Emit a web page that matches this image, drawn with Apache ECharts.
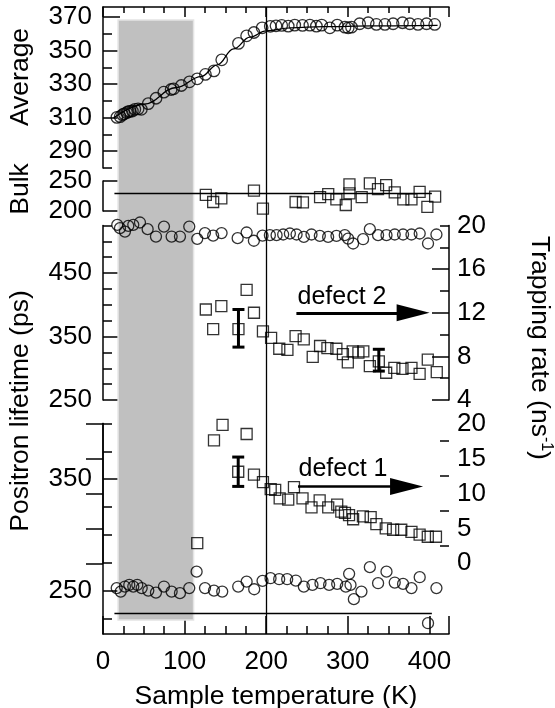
<!DOCTYPE html>
<html>
<head>
<meta charset="utf-8">
<script src="https://cdn.jsdelivr.net/npm/echarts@6/dist/echarts.min.js"></script>
<style>
  html, body { margin: 0; padding: 0; background: #fff; }
  #chart { width: 555px; height: 708px; }
</style>
</head>
<body>
<div id="chart"></div>
<script>
// ---- data: positron lifetime analysis vs. sample temperature ----

// average lifetime (ps)
const avgT = [17, 21, 24, 26, 29, 31, 33, 36, 39, 43, 47, 55.5, 65, 74.5, 83.5, 86.5, 96, 106, 115.5, 125.5,
  136, 145.5, 166, 176, 185, 195, 205, 212, 219, 227, 235, 244.5, 253.5, 261.5, 268, 278, 287, 296.5,
  300.5, 304.5, 314.5, 325, 335, 345.5, 355.5, 367, 376, 386, 396.5, 406.5];
const avgV = [310.2, 310.6, 311.8, 312.3, 313.0, 313.6, 313.8, 314.0, 315.0, 315.2, 315.0, 318.4, 321.6, 325.2,
  326.8, 327.2, 329.2, 331.4, 333.2, 335.8, 337.9, 344.5, 354.3, 358.8, 360.8, 363.6, 364.5, 364.8, 365.0,
  364.6, 365.2, 365.0, 365.2, 364.6, 365.2, 363.6, 365.2, 364.0, 363.6, 364.0, 366.0, 366.6, 365.6, 365.6,
  366.0, 366.6, 366.0, 365.6, 366.0, 365.6];

// model curve through the average lifetime
const fitT = [13, 50, 90, 120, 140, 160, 180, 200, 230, 270, 330, 410];
const fitV = [309.8, 318, 328, 334.5, 341.5, 351, 358, 361.8, 363.6, 364.3, 364.7, 365];

// bulk lifetime (ps)
const bulkT = [126, 135, 145, 185, 196, 236, 245, 266, 276, 286, 297.5, 302, 302, 317, 327, 337, 347,
  357.5, 368, 378, 388, 397.5, 407];
const bulkV = [227, 215, 221, 234, 204, 215, 214.5, 223, 228, 219.5, 210, 244.5, 229.5, 223, 246, 236.5,
  243, 231, 219.5, 219.5, 232, 207, 224];
const bulkRef = 230;
const refFrom = 14, refTo = 403;

// defect 2: lifetime (ps) and trapping rate (1/ns)
const tau2T = [17.5, 20.8, 26.9, 31, 37.1, 45.3, 54.7, 64.9, 74.7, 84.1, 94.3, 105.7, 115.5, 124.9, 135,
  145.3, 165, 176, 184.9, 195.5, 204.5, 212.7, 220.8, 229, 237.2, 246.1, 255.5, 265.7, 275.9, 286.1,
  296.3, 300.4, 306.5, 318.7, 327, 337.1, 347.4, 357.5, 367.7, 378, 388.1, 398.3, 408.6];
const tau2V = [526, 520.8, 515.5, 524.4, 526, 529.7, 519.2, 507.6, 523.3, 507.6, 507.6, 523.3, 504, 513,
  509, 513, 505, 514, 501, 509, 509.8, 509.8, 510.8, 512.4, 510.8, 507.1, 510.8, 508.7, 507, 508.7,
  509.8, 504.4, 496.6, 503.4, 519.2, 509.8, 509.8, 510.8, 510.8, 510.8, 512.4, 496.6, 510.8];
const rate2T = [126, 135, 145, 166, 176, 185, 196, 206, 216, 226, 236, 246, 257, 266, 275, 286, 294, 300,
  306, 313, 319, 327, 338, 347, 357, 367, 378, 388, 398, 409];
const rate2V = [12.3, 10.5, 12.6, 10.5, 14.1, 12.0, 10.3, 9.7, 8.7, 8.6, 9.85, 9.55, 7.95, 8.95, 8.75, 8.7,
  8.2, 7.45, 8.45, 8.35, 8.45, 7.1, 7.55, 6.5, 6.95, 6.85, 6.95, 6.4, 7.7, 6.55];
const rate2Err = [[166, 8.85, 12.3], [338, 6.65, 8.65]];   // [T, low, high]
const arrow2 = { from: 237, to: 380, level: 12 };

// defect 1: lifetime (ps) and trapping rate (1/ns)
const tau1T = [16.8, 21.7, 26.9, 32.2, 37.1, 42, 47.4, 55.5, 64.9, 74.7, 84.1, 94.3, 105.7, 114.7, 125,
  136, 146.1, 165.7, 176, 185.3, 195.5, 205.3, 215.9, 225.7, 236.3, 246.1, 256.7, 266.5, 277.1, 287,
  297.5, 301.6, 303.3, 307.4, 316.7, 327, 337.1, 347.4, 357.5, 367.7, 378, 388.1, 398.3, 408.6];
const tau1V = [252.2, 249.1, 253.6, 255.1, 253.6, 255.1, 252.2, 250, 248.2, 253.6, 249.1, 247.7, 252.2,
  267, 252.2, 250, 249.1, 253.6, 258, 251.2, 258.7, 261.1, 260.2, 260.2, 259, 253.6, 255.1, 256.6, 255.1,
  256, 253.6, 265, 255.1, 242.3, 249.1, 271, 256.6, 267, 257.2, 256, 252.2, 262, 220.7, 252.2];
const rate1T = [115.5, 136, 146.5, 165.7, 176, 185, 196, 205.5, 211, 216.5, 227, 234, 244.5, 255.5, 265.5,
  276, 287, 292, 296.5, 301.5, 306.5, 318.5, 328, 335, 346.5, 355.5, 365.5, 378, 388, 398, 408];
const rate1V = [2.9, 17.6, 19.8, 13.1, 18.5, 12.7, 11.6, 10.6, 10.5, 9.3, 9.1, 10.9, 9.3, 8.0, 9.0, 8.0,
  8.4, 7.4, 7.2, 6.9, 6.3, 6.7, 6.6, 5.6, 5.0, 4.8, 4.8, 4.5, 4.1, 3.8, 3.8];
const rate1Err = [[165.7, 11.0, 15.2]];
const arrow1 = { from: 239, to: 372, level: 11 };

// low-temperature band and reference temperature
const bandFrom = 18.5, bandTo = 111;
const refTemp = 200;

// tick labels
const xTicks = [0, 100, 200, 300, 400];
const avgLabels = [290, 310, 330, 350, 370];
const avgMinor = [280, 300, 320, 340, 360];
const bulkLabels = [200, 250];
const tau2Labels = [250, 350, 450];
const tau2Minor = [275, 300, 325, 375, 400, 425, 475, 500, 525];
const rate2Labels = [4, 8, 12, 16, 20];
const rate2Minor = [6, 10, 14, 18];
const tau1Labels = [250, 350];
const tau1Minor = [225, 275, 300, 325, 375, 400];
const rate1Labels = [0, 5, 10, 15, 20];
const rate1Minor = [2.5, 7.5, 12.5, 17.5];

// ---- chart ----
const FONT = '"Liberation Sans", Arial, Helvetica, sans-serif';
const X_MAX = 424;
const LEFT = 103, WIDTH = 346;
const LW = 1.5;
const TICK_FS = 26, TITLE_FS = 26.5;

const pairs = (xs, ys) => xs.map((x, i) => [x, ys[i]]);

function grid(top, height) {
  return { left: LEFT, width: WIDTH, top: top, height: height, containLabel: false, outerBoundsMode: 'none' };
}
function hiddenX(gi) {
  return { type: 'value', gridIndex: gi, min: 0, max: X_MAX, show: false };
}
function yAx(gi, pos, min, max, labels, ticks, len, withLine) {
  return {
    type: 'value', gridIndex: gi, position: pos, min: min, max: max,
    splitLine: { show: false },
    axisLine: { show: withLine, lineStyle: { color: '#000', width: LW } },
    axisTick: { show: true, inside: true, length: len, customValues: ticks,
      lineStyle: { color: '#000', width: LW } },
    axisLabel: labels ? { show: true, customValues: labels, fontSize: TICK_FS, fontFamily: FONT,
      color: '#000', margin: pos === 'left' ? 11 : 8 } : { show: false }
  };
}

const hollow = { color: 'rgba(0,0,0,0)', borderColor: '#000', borderWidth: 1.3 };
function scatter(xi, yi, data, symbol, size) {
  return { type: 'scatter', xAxisIndex: xi, yAxisIndex: yi, data: data, symbol: symbol,
    symbolSize: size, itemStyle: hollow, clip: false, silent: true, z: 3 };
}
function errorBars(xi, yi, data) {
  return {
    type: 'custom', xAxisIndex: xi, yAxisIndex: yi, data: data, silent: true, z: 4, clip: false,
    encode: { x: 0, y: [1, 2] },
    renderItem: function (params, api) {
      const lo = api.coord([api.value(0), api.value(1)]);
      const hi = api.coord([api.value(0), api.value(2)]);
      const w = 6, st = { stroke: '#000', lineWidth: 3 };
      return { type: 'group', children: [
        { type: 'line', shape: { x1: lo[0], y1: lo[1], x2: hi[0], y2: hi[1] }, style: st },
        { type: 'line', shape: { x1: lo[0] - w, y1: lo[1], x2: lo[0] + w, y2: lo[1] }, style: st },
        { type: 'line', shape: { x1: hi[0] - w, y1: hi[1], x2: hi[0] + w, y2: hi[1] }, style: st }
      ] };
    }
  };
}
function hLine(value) {
  return { silent: true, symbol: ['none', 'none'], label: { show: false },
    lineStyle: { color: '#000', width: 1.3, type: 'solid' },
    data: [[{ coord: [refFrom, value] }, { coord: [refTo, value] }]] };
}
function arrow(a, width) {
  return { silent: true, symbol: ['none', 'triangle'], symbolSize: [17, 33], label: { show: false },
    lineStyle: { color: '#000', width: width, type: 'solid' }, itemStyle: { color: '#000' },
    data: [[{ coord: [a.from, a.level] }, { coord: [a.to, a.level] }]] };
}

const option = {
  animation: false,
  backgroundColor: '#fff',
  textStyle: { fontFamily: FONT },
  grid: [
    grid(7, 161),        // 0 average
    grid(181, 30),       // 1 bulk
    grid(225.5, 174.5),  // 2 defect 2
    grid(423.5, 210.5),  // 3 defect 1 lifetime
    grid(423.5, 139.8),  // 4 defect 1 trapping rate
    grid(20, 600),       // 5 low-temperature band
    grid(7, 627)         // 6 reference temperature line
  ],
  xAxis: [
    { type: 'value', gridIndex: 0, position: 'top', min: 0, max: X_MAX, interval: 100,
      splitLine: { show: false },
      axisLine: { lineStyle: { color: '#000', width: LW } },
      axisTick: { inside: true, length: 10, lineStyle: { color: '#000', width: LW } },
      minorTick: { show: true, splitNumber: 4, length: 6, lineStyle: { color: '#000', width: LW } },
      axisLabel: { show: false } },
    hiddenX(1), hiddenX(2),
    { type: 'value', gridIndex: 3, position: 'bottom', min: 0, max: X_MAX, interval: 100,
      splitLine: { show: false },
      axisLine: { lineStyle: { color: '#000', width: LW } },
      axisTick: { inside: true, length: 18, lineStyle: { color: '#000', width: LW } },
      minorTick: { show: true, splitNumber: 4, length: 8, lineStyle: { color: '#000', width: LW } },
      axisLabel: { customValues: xTicks, fontSize: TICK_FS, fontFamily: FONT, color: '#000', margin: 15 },
      name: 'Sample temperature (K)', nameLocation: 'middle', nameGap: 49,
      nameTextStyle: { fontSize: TITLE_FS, fontFamily: FONT, color: '#000' } },
    hiddenX(4), hiddenX(5), hiddenX(6)
  ],
  yAxis: [
    yAx(0, 'left', 280, 376, avgLabels, avgLabels, 17, true),     // 0
    yAx(0, 'left', 280, 376, null, avgMinor, 9, false),           // 1
    yAx(1, 'left', 200, 250, bulkLabels, bulkLabels, 17, true),   // 2
    yAx(2, 'left', 250, 525, tau2Labels, tau2Labels, 17, true),   // 3
    yAx(2, 'left', 250, 525, null, tau2Minor, 9, false),          // 4
    yAx(2, 'right', 4, 20, rate2Labels, [4, 8, 12, 16], 17, true),// 5
    yAx(2, 'right', 4, 20, null, rate2Minor.concat([20]), 9, false), // 6
    yAx(3, 'left', 211, 400, tau1Labels, tau1Labels, 17, true),   // 7
    yAx(3, 'left', 211, 400, null, tau1Minor, 9, false),          // 8
    yAx(4, 'right', 0, 20, rate1Labels, rate1Labels, 17, true),   // 9
    yAx(4, 'right', 0, 20, null, rate1Minor, 9, false),           // 10
    { type: 'value', gridIndex: 5, min: 0, max: 1, show: false }, // 11
    { type: 'value', gridIndex: 6, min: 0, max: 1, show: false }  // 12
  ],
  series: [
    { type: 'line', xAxisIndex: 5, yAxisIndex: 11, data: [], silent: true, z: 1,
      markArea: { silent: true,
        itemStyle: { color: '#c0c0c0', borderColor: '#e4e4e4', borderWidth: 1.5 },
        data: [[{ xAxis: bandFrom }, { xAxis: bandTo }]] } },
    { type: 'line', xAxisIndex: 6, yAxisIndex: 12, data: [], silent: true, z: 2,
      markLine: { silent: true, symbol: ['none', 'none'], label: { show: false },
        lineStyle: { color: '#000', width: 1.3, type: 'solid' },
        data: [{ xAxis: refTemp }] } },
    scatter(0, 0, pairs(avgT, avgV), 'circle', 11.5),
    { type: 'line', xAxisIndex: 0, yAxisIndex: 0, data: pairs(fitT, fitV), smooth: 0.4,
      smoothMonotone: 'x', showSymbol: false, symbol: 'none',
      lineStyle: { color: '#000', width: 1.3 }, silent: true, z: 3 },
    Object.assign(scatter(1, 2, pairs(bulkT, bulkV), 'rect', 11), { markLine: hLine(bulkRef) }),
    scatter(2, 3, pairs(tau2T, tau2V), 'circle', 11),
    Object.assign(scatter(2, 5, pairs(rate2T, rate2V), 'rect', 11), { markLine: arrow(arrow2, 3) }),
    errorBars(2, 5, rate2Err),
    Object.assign(scatter(3, 7, pairs(tau1T, tau1V), 'circle', 11), { markLine: hLine(bulkRef) }),
    Object.assign(scatter(4, 9, pairs(rate1T, rate1V), 'rect', 11), { markLine: arrow(arrow1, 2.5) }),
    errorBars(4, 9, rate1Err)
  ],
  graphic: [
    { type: 'text', x: 21, y: 77, rotation: Math.PI / 2,
      style: { text: 'Average', font: TITLE_FS + 'px ' + FONT, fill: '#000', align: 'center', verticalAlign: 'middle' } },
    { type: 'text', x: 21, y: 189, rotation: Math.PI / 2,
      style: { text: 'Bulk', font: TITLE_FS + 'px ' + FONT, fill: '#000', align: 'center', verticalAlign: 'middle' } },
    { type: 'text', x: 21, y: 411, rotation: Math.PI / 2,
      style: { text: 'Positron lifetime (ps)', font: TITLE_FS + 'px ' + FONT, fill: '#000', align: 'center', verticalAlign: 'middle' } },
    { type: 'text', x: 539, y: 348, rotation: -Math.PI / 2,
      style: { text: '{a|Trapping rate (ns}{s|-1}{a|)}', align: 'center', verticalAlign: 'middle',
        rich: { a: { fontSize: TITLE_FS, fontFamily: FONT, fill: '#000', lineHeight: 30 },
                s: { fontSize: 16, fontFamily: FONT, fill: '#000', verticalAlign: 'top', lineHeight: 16 } } } },
    { type: 'text', x: 342, y: 297, style: { text: 'defect 2', font: '25px ' + FONT, fill: '#000',
      align: 'center', verticalAlign: 'middle' } },
    { type: 'text', x: 343, y: 469, style: { text: 'defect 1', font: '25px ' + FONT, fill: '#000',
      align: 'center', verticalAlign: 'middle' } }
  ]
};

const chart = echarts.init(document.getElementById('chart'), null, { renderer: 'canvas' });
chart.setOption(option);
</script>
</body>
</html>
